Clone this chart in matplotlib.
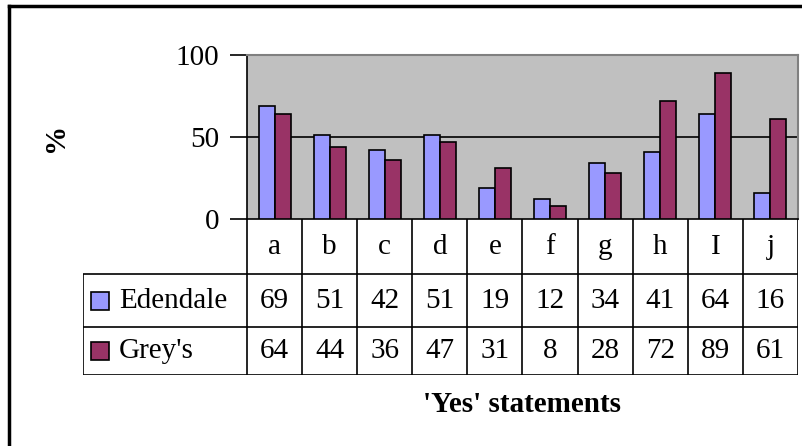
import matplotlib
matplotlib.use('Agg')
import matplotlib.pyplot as plt
import numpy as np

categories = ['a', 'b', 'c', 'd', 'e', 'f', 'g', 'h', 'I', 'j']
edendale = [69, 51, 42, 51, 19, 12, 34, 41, 64, 16]
greys = [64, 44, 36, 47, 31, 8, 28, 72, 89, 61]
series_names = ['Edendale', "Grey's"]
series_colors = ['#9999FF', '#993366']

plt.rcParams['font.family'] = ['Liberation Serif', 'DejaVu Serif']
fs = 21

W, H = 803, 446
fig = plt.figure(figsize=(W / 100, H / 100), dpi=100)

def px(x0, y0, x1, y1):
    # pixel box (top-left origin) -> figure fraction rect
    return [x0 / W, 1 - y1 / H, (x1 - x0) / W, (y1 - y0) / H]

# outer chart border (left and top only visible)
fig.add_artist(plt.Line2D([9 / W, 9 / W], [0, 1 - 6 / H], color='black', lw=2.5))
fig.add_artist(plt.Line2D([9 / W, 1], [1 - 6 / H, 1 - 6 / H], color='black', lw=2.5))

# plot area
ax = fig.add_axes(px(247, 55, 798, 219))
ax.set_facecolor('#C0C0C0')
x = np.arange(len(categories)) + 0.5
bw = 0.29
ax.bar(x - bw / 2, edendale, bw, color=series_colors[0], edgecolor='black', lw=1.2, zorder=3)
ax.bar(x + bw / 2, greys, bw, color=series_colors[1], edgecolor='black', lw=1.2, zorder=3)
ax.set_xlim(0, len(categories))
ax.set_ylim(0, 100)
ax.set_yticks([0, 50, 100])
ax.tick_params(axis='y', labelsize=fs, length=12, width=1.2, pad=8)
ax.set_xticks([])
ax.axhline(50, color='black', lw=1.2, zorder=2)
for s in ['top', 'right']:
    ax.spines[s].set_color('#808080')
    ax.spines[s].set_linewidth(1.5)
for s in ['left', 'bottom']:
    ax.spines[s].set_color('black')
    ax.spines[s].set_linewidth(1.2)
ax.set_ylabel('%', fontsize=fs, fontweight='bold', labelpad=0)
ax.yaxis.set_label_coords(-178 / 551, 0.5)

# data table below
row_edges = [219, 274, 327, 375]
tab = fig.add_axes(px(83, 219, 798, 375))
colw = (798 - 247) / len(categories)
lab_w = (247 - 83) / colw
tab.set_xlim(-lab_w, len(categories))
tab.set_ylim(row_edges[-1], row_edges[0])
tab.axis('off')
lk = dict(color='black', lw=1.2, solid_capstyle='butt')
for i in range(len(categories) + 1):
    tab.plot([i, i], [row_edges[0], row_edges[-1]], **lk)
tab.plot([-lab_w, -lab_w], [row_edges[1], row_edges[-1]], **lk)
for y in row_edges[1:]:
    tab.plot([-lab_w, len(categories)], [y, y], **lk)

for i, c in enumerate(categories):
    tab.text(i + 0.5, (row_edges[0] + row_edges[1]) / 2, c, ha='center', va='center', fontsize=fs)
for r, (vals, name, col) in enumerate(zip([edendale, greys], series_names, series_colors)):
    yc = (row_edges[r + 1] + row_edges[r + 2]) / 2
    for i, v in enumerate(vals):
        tab.text(i + 0.5, yc, str(v), ha='center', va='center', fontsize=fs)
    kx = -lab_w + 8 / colw
    tab.add_patch(plt.Rectangle((kx, yc - 9), 18 / colw, 18, facecolor=col,
                                edgecolor='black', lw=1.2))
    tab.text(-lab_w + 36 / colw, yc, name, ha='left', va='center', fontsize=fs)

fig.text(522 / W, 1 - 405 / H, "'Yes' statements", ha='center', va='center',
         fontsize=fs, fontweight='bold')

fig.savefig('out.png', dpi=100)
